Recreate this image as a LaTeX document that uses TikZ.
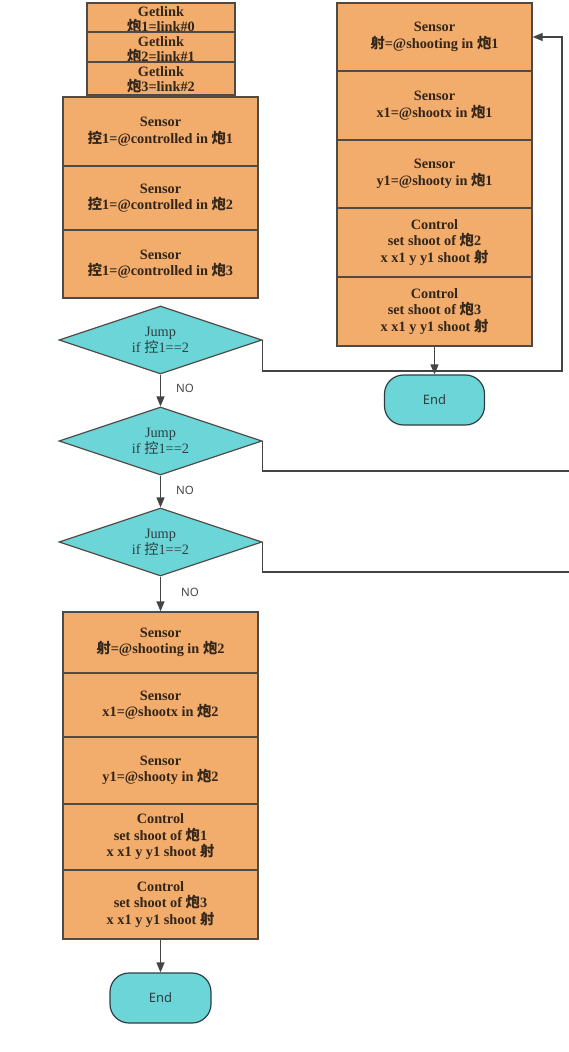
\documentclass[tikz,border=0pt]{standalone}
\usepackage{fontspec}
\setmainfont{Liberation Serif}
\setsansfont{Noto Sans}
\newfontfamily\cjkfont{Noto Sans CJK SC}
\usetikzlibrary{shapes.geometric,arrows.meta}
\newcommand\pao{{\cjkfont 炮}}
\newcommand\kong{{\cjkfont 控}}
\newcommand\she{{\cjkfont 射}}
\definecolor{boxfill}{HTML}{F2AC6B}
\definecolor{cyanfill}{HTML}{6BD5D8}
\definecolor{edge}{HTML}{4F4A45}
\definecolor{txt}{HTML}{33261A}
\definecolor{dtxt}{HTML}{2E3F44}
\definecolor{arrc}{HTML}{444444}
\begin{document}
\begin{tikzpicture}[x=1pt,y=-1pt,
  obox/.style={rectangle,draw=edge,line width=1.4pt,fill=boxfill,minimum width=195pt,inner sep=0pt,
    align=center,text=txt,font=\bfseries\fontsize{14.3}{16.5}\selectfont,
    execute at begin node=\rule{0pt}{13.5pt}},
  gbox/.style={rectangle,draw=edge,line width=1.4pt,fill=boxfill,minimum width=148pt,inner sep=0pt},
  gtext/.style={align=center,text=txt,inner sep=0pt,font=\bfseries\fontsize{14.3}{15}\selectfont},
  dia/.style={diamond,draw=edge,line width=1.2pt,fill=cyanfill,minimum width=203pt,minimum height=68pt,
    inner sep=0pt,shape aspect=3,align=center,text=dtxt,font=\fontsize{14.3}{16}\selectfont},
  term/.style={rectangle,rounded corners=19pt,draw=dtxt,line width=1.2pt,fill=cyanfill,minimum width=100pt,
    minimum height=50pt,inner sep=0pt,text=dtxt,font=\sffamily\fontsize{13}{14}\selectfont},
  arr/.style={draw=arrc,line width=1.4pt,-{Triangle[length=10pt,width=8pt]}},
  ln/.style={draw=arrc,line width=1.4pt},
  nolbl/.style={text=arrc,inner sep=0pt,font=\sffamily\fontsize{11.5}{13}\selectfont}]
\useasboundingbox (0,0) rectangle (569,1052);
\fill[white] (0,0) rectangle (569,1052);

% Getlink stack
\node[gbox,minimum height=29pt] (g1) at (161,17.5) {};
\node[gtext] (g1t) at ([yshift=-2pt]g1.center) {Getlink\\\pao1=link\#0};
\node[gbox,minimum height=30pt] (g2) at (161,47) {};
\node[gtext] (g2t) at ([yshift=-2.5pt]g2.center) {Getlink\\\pao2=link\#1};
\node[gbox,minimum height=33pt] (g3) at (161,78.5) {};
\node[gtext] (g3t) at ([yshift=-1pt]g3.center) {Getlink\\\pao3=link\#2};

% controlled sensors
\node[obox,minimum height=69pt] (s1) at (160.5,131.5) {Sensor\\\kong1=@controlled in \pao1};
\node[obox,minimum height=64pt] (s2) at (160.5,198) {Sensor\\\kong1=@controlled in \pao2};
\node[obox,minimum height=68pt] (s3) at (160.5,264) {Sensor\\\kong1=@controlled in \pao3};

% diamonds
\node[dia] (d1) at (160.5,340) {Jump\\if \kong1==2};
\node[dia] (d2) at (160.5,441) {Jump\\if \kong1==2};
\node[dia] (d3) at (160.5,542) {Jump\\if \kong1==2};

% right column
\node[obox,minimum height=68pt] (r1) at (434.5,37) {Sensor\\\she=@shooting in \pao1};
\node[obox,minimum height=69pt] (r2) at (434.5,105.5) {Sensor\\x1=@shootx in \pao1};
\node[obox,minimum height=68pt] (r3) at (434.5,174) {Sensor\\y1=@shooty in \pao1};
\node[obox,minimum height=69pt] (r4) at (434.5,242.5) {Control\\set shoot of \pao2\\x x1 y y1 shoot \she};
\node[obox,minimum height=69pt] (r5) at (434.5,311.5) {Control\\set shoot of \pao3\\x x1 y y1 shoot \she};
\node[term] (e1) at (434.5,400) {End};

% bottom column
\node[obox,minimum height=61pt] (b1) at (160.5,642.5) {Sensor\\\she=@shooting in \pao2};
\node[obox,minimum height=64pt] (b2) at (160.5,705) {Sensor\\x1=@shootx in \pao2};
\node[obox,minimum height=67pt] (b3) at (160.5,770.5) {Sensor\\y1=@shooty in \pao2};
\node[obox,minimum height=66pt] (b4) at (160.5,837) {Control\\set shoot of \pao1\\x x1 y y1 shoot \she};
\node[obox,minimum height=69pt] (b5) at (160.5,904.5) {Control\\set shoot of \pao3\\x x1 y y1 shoot \she};
\node[term,minimum width=101pt] (e2) at (160.5,998) {End};

% connectors
\coordinate (c1b) at (562,371);
\coordinate (c1c) at (562,37);
\draw[arr] (d1.east) |- (c1b) -- (c1c) -- (r1.east);
\draw[arr] (r5.south) -- (e1.north);

\coordinate (c2b) at (569,471);
\draw[ln] (d2.east) |- (c2b);
\coordinate (c3b) at (569,572);
\draw[ln] (d3.east) |- (c3b);

\draw[arr] (d1.south) -- (d2.north);
\draw[arr] (d2.south) -- (d3.north);
\draw[arr] (d3.south) -- (b1.north);
\draw[arr] (b5.south) -- (e2.north);

\node[nolbl] (n1) at (185,388) {NO};
\node[nolbl] (n2) at (185,490) {NO};
\node[nolbl] (n3) at (190,592) {NO};
\end{tikzpicture}
\end{document}
